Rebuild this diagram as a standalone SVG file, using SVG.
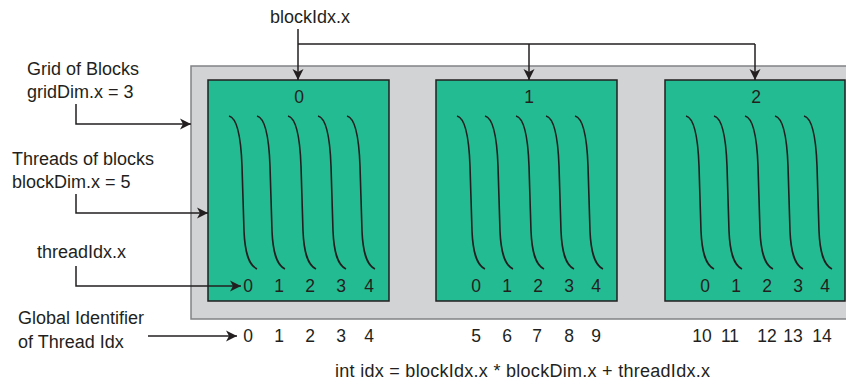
<svg xmlns="http://www.w3.org/2000/svg" xmlns:xlink="http://www.w3.org/1999/xlink" width="846" height="385" viewBox="0 0 846 385">
  <style>
    text { font-family: "Liberation Sans", Arial, sans-serif; fill: #231F20; }
    .lbl { font-size: 18px; }
    .num { font-size: 17.5px; text-anchor: middle; }
    .grid { fill: #D1D3D4; stroke: #808285; stroke-width: 1.5; }
    .block { fill: #23BB92; stroke: #231F20; stroke-width: 1.5; }
    .thread { fill: none; stroke: #231F20; stroke-width: 1.6; }
    .conn { fill: none; stroke: #231F20; stroke-width: 1.5; }
    .arrow { marker-end: url(#head); }
  </style>
  <defs>
    <marker id="head" markerUnits="userSpaceOnUse" viewBox="-12 -6 13 12" refX="0" refY="0" markerWidth="13" markerHeight="12" orient="auto">
      <path d="M0,0 L-11,-5.5 L-8,0 L-11,5.5 Z" fill="#231F20"/>
    </marker>
    <!-- one thread strand, drawn from its top-left start point -->
    <path id="strand" class="thread" d="M0,0 C8,2 12,22 13,50 L15,115 C16,138 20,149 28,153"/>
    <g id="strands">
      <use xlink:href="#strand" x="229" y="116"/>
      <use xlink:href="#strand" x="257" y="116"/>
      <use xlink:href="#strand" x="288" y="116"/>
      <use xlink:href="#strand" x="318" y="116"/>
      <use xlink:href="#strand" x="347" y="116"/>
    </g>
  </defs>

  <!-- grid of blocks -->
  <g id="grid">
    <rect class="grid" x="191" y="66" width="670" height="253"/>
  </g>

  <!-- block 0 -->
  <g id="block0">
    <rect class="block" x="208" y="80" width="181" height="221"/>
    <text class="num" x="299" y="103">0</text>
    <use xlink:href="#strands"/>
    <text class="num" x="248" y="292">0</text>
    <text class="num" x="279" y="292">1</text>
    <text class="num" x="310" y="292">2</text>
    <text class="num" x="341" y="292">3</text>
    <text class="num" x="369" y="292">4</text>
  </g>

  <!-- block 1 -->
  <g id="block1">
    <rect class="block" x="436" y="80" width="181" height="221"/>
    <text class="num" x="529" y="103">1</text>
    <use xlink:href="#strands" x="228"/>
    <text class="num" x="476" y="292">0</text>
    <text class="num" x="507" y="292">1</text>
    <text class="num" x="538" y="292">2</text>
    <text class="num" x="569" y="292">3</text>
    <text class="num" x="596" y="292">4</text>
  </g>

  <!-- block 2 -->
  <g id="block2">
    <rect class="block" x="665" y="80" width="180" height="221"/>
    <text class="num" x="756" y="103">2</text>
    <use xlink:href="#strands" x="457"/>
    <text class="num" x="705" y="292">0</text>
    <text class="num" x="736" y="292">1</text>
    <text class="num" x="767" y="292">2</text>
    <text class="num" x="798" y="292">3</text>
    <text class="num" x="825" y="292">4</text>
  </g>

  <!-- labels -->
  <g id="label-blockIdx">
    <text class="lbl" x="270" y="23">blockIdx.x</text>
  </g>
  <g id="label-grid">
    <text class="lbl" x="27" y="75">Grid of Blocks</text>
    <text class="lbl" x="27" y="98">gridDim.x = 3</text>
  </g>
  <g id="label-threads">
    <text class="lbl" x="12" y="165">Threads of blocks</text>
    <text class="lbl" x="12" y="188">blockDim.x = 5</text>
  </g>
  <g id="label-threadIdx">
    <text class="lbl" x="37" y="258">threadIdx.x</text>
  </g>
  <g id="label-global">
    <text class="lbl" x="18" y="324">Global Identifier</text>
    <text class="lbl" x="18" y="348">of Thread Idx</text>
  </g>

  <!-- global thread indices -->
  <g id="global-ids">
    <text class="num" x="248" y="342">0</text>
    <text class="num" x="279" y="342">1</text>
    <text class="num" x="310" y="342">2</text>
    <text class="num" x="341" y="342">3</text>
    <text class="num" x="369" y="342">4</text>
    <text class="num" x="476" y="342">5</text>
    <text class="num" x="507" y="342">6</text>
    <text class="num" x="537" y="342">7</text>
    <text class="num" x="569" y="342">8</text>
    <text class="num" x="596" y="342">9</text>
    <text class="num" x="702" y="342">10</text>
    <text class="num" x="730" y="342">11</text>
    <text class="num" x="767" y="342">12</text>
    <text class="num" x="793" y="342">13</text>
    <text class="num" x="822" y="342">14</text>
  </g>

  <g id="formula">
    <text class="lbl" x="335" y="377" textLength="375" lengthAdjust="spacing">int idx = blockIdx.x * blockDim.x + threadIdx.x</text>
  </g>

  <!-- connectors -->
  <g id="connectors">
    <path class="conn" d="M298,44 H755"/>
    <path class="conn arrow" d="M298,29 V80"/>
    <path class="conn arrow" d="M529,44 V80"/>
    <path class="conn arrow" d="M755,44 V80"/>
    <path class="conn arrow" d="M76,104 V124 H191"/>
    <path class="conn arrow" d="M76,194 V213 H208"/>
    <path class="conn arrow" d="M76,266 V286 H241"/>
    <path class="conn arrow" d="M148,336 H237"/>
  </g>
</svg>
